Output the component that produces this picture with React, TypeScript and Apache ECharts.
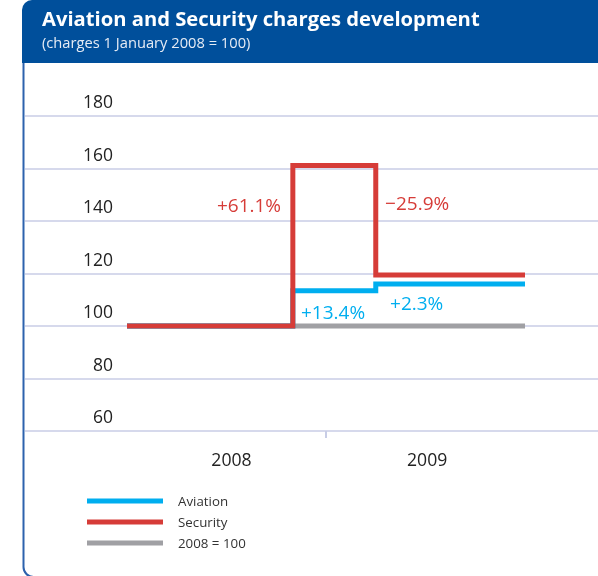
import React, { useEffect, useRef } from "react";
import * as echarts from "echarts";

// months since 1 January 2008
const changeMonths = [0, 10, 15, 24];
const aviation = [100, 113.4, 116.0, 116.0];
const security = [100, 161.1, 119.4, 119.4];
const baseline = [100, 100, 100, 100];
const years = ["2008", "2009"];
const yTicks = [60, 80, 100, 120, 140, 160, 180];
const seriesNames = ["Aviation", "Security", "2008 = 100"];

const FONT = "'Open Sans', 'Noto Sans', sans-serif";
const RED = "#d63c38";
const BLUE = "#00aeef";
const GRAY = "#a0a0a4";

const pairs = (vals: number[]) => changeMonths.map((m, i) => [m, vals[i]]);

export default function App() {
  const ref = useRef<HTMLDivElement>(null);
  useEffect(() => {
    if (!ref.current) return;
    const chart = echarts.init(ref.current, null, { renderer: "svg" });
    const lineCommon = {
      type: "line",
      step: "end",
      showSymbol: false,
      symbol: "none",
      silent: true,
    };
    const mp = (text: string, coord: number[], color: string, align: string) => ({
      coord,
      symbol: "circle",
      symbolSize: 0,
      label: {
        show: true,
        formatter: text,
        position: "inside",
        align,
        verticalAlign: "middle",
        color,
        fontSize: 19,
        fontFamily: FONT,
      },
    });
    chart.setOption({
      animation: false,
      title: {
        text: "Aviation and Security charges development",
        subtext: "(charges 1 January 2008 = 100)",
        left: 42,
        top: 8,
        padding: 0,
        itemGap: 6,
        textStyle: { color: "#ffffff", fontSize: 20.2, fontWeight: "bold", fontFamily: FONT },
        subtextStyle: { color: "#e6ecf5", fontSize: 14.7, fontFamily: FONT },
      },
      graphic: [
        {
          type: "rect",
          z: -10,
          shape: { x: 23.5, y: 30, width: 700, height: 547, r: [0, 0, 0, 10] },
          style: { fill: "none", stroke: "#2d62ad", lineWidth: 2 },
        },
        {
          type: "rect",
          z: -5,
          shape: { x: 22, y: 0, width: 600, height: 63, r: [10, 0, 0, 0] },
          style: { fill: "#004f9b" },
        },
      ],
      legend: {
        data: seriesNames,
        orient: "vertical",
        left: 87,
        top: 494,
        padding: 0,
        icon: "rect",
        itemWidth: 76,
        itemHeight: 5,
        itemGap: 7,
        selectedMode: false,
        textStyle: { fontSize: 13.3, lineHeight: 14, color: "#333", fontFamily: FONT, padding: [0, 0, 0, 10] },
      },
      grid: { left: 25, right: 0, top: 116, bottom: 145 },
      xAxis: {
        type: "value",
        min: -6.15,
        max: 28.4,
        axisLine: { show: false },
        splitLine: { show: false },
        axisTick: { show: true, customValues: [12], length: 7, lineStyle: { color: "#c8cde6", width: 2 } },
        axisLabel: {
          show: true,
          customValues: [6.3, 18.1],
          formatter: (v: number) => years[Math.floor(v / 12)] ?? "",
          margin: 19,
          fontSize: 17.6,
          color: "#222",
          fontFamily: FONT,
        },
      },
      yAxis: {
        type: "value",
        min: yTicks[0],
        max: yTicks[yTicks.length - 1],
        interval: 20,
        axisLine: { show: false },
        axisTick: { show: false },
        splitLine: { show: true, lineStyle: { color: "#c8cde6", width: 1.5 } },
        axisLabel: {
          inside: true,
          margin: 88,
          align: "right",
          verticalAlign: "bottom",
          padding: [0, 0, 6, 0],
          fontSize: 17.5,
          color: "#222",
          fontFamily: FONT,
        },
      },
      series: [
        {
          ...lineCommon,
          name: seriesNames[2],
          data: pairs(baseline),
          lineStyle: { color: GRAY, width: 5, cap: "butt", join: "miter" },
          itemStyle: { color: GRAY },
          z: 2,
        },
        {
          ...lineCommon,
          name: seriesNames[0],
          data: pairs(aviation),
          lineStyle: { color: BLUE, width: 5, cap: "butt", join: "miter" },
          itemStyle: { color: BLUE },
          z: 3,
          markPoint: {
            silent: true,
            data: [
              mp("+13.4%", [10.49, 105.3], BLUE, "left"),
              mp("+2.3%", [15.86, 108.8], BLUE, "left"),
            ],
          },
        },
        {
          ...lineCommon,
          name: seriesNames[1],
          data: pairs(security),
          lineStyle: { color: RED, width: 5, cap: "butt", join: "miter" },
          itemStyle: { color: RED },
          z: 4,
          markPoint: {
            silent: true,
            data: [
              mp("+61.1%", [9.29, 146.1], RED, "right"),
              mp("\u221225.9%", [15.56, 146.9], RED, "left"),
            ],
          },
        },
      ],
    });
    return () => chart.dispose();
  }, []);
  return <div ref={ref} style={{ position: "fixed", left: 0, top: 0, width: 598, height: 576 }} />;
}
